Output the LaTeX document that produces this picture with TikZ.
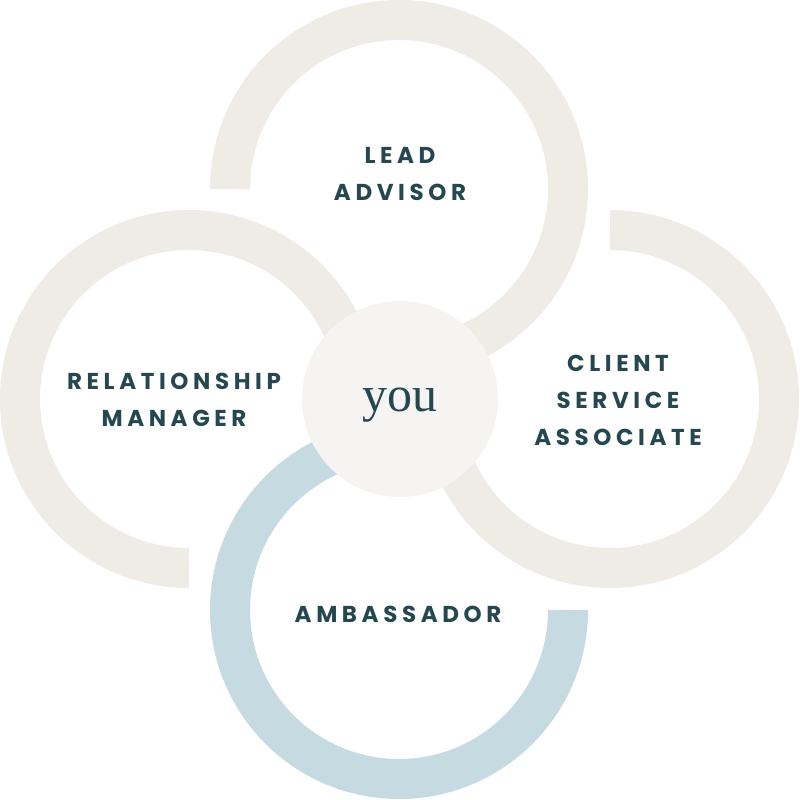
\documentclass[tikz,border=0pt]{standalone}
\usepackage{fontspec}
\newfontfamily\labfont[LetterSpace=20]{Poppins}
\newfontfamily\youfont{Liberation Serif}
\definecolor{beige}{HTML}{EFECE6}
\definecolor{paleblue}{HTML}{C5DAE1}
\definecolor{hub}{HTML}{F5F4F2}
\definecolor{ink}{HTML}{244750}
\tikzset{
  ring/.style={line width=40pt, draw=#1},
  lab/.style={text=ink, align=center, font=\labfont\bfseries\fontsize{23}{37}\selectfont, inner sep=0pt},
}
\begin{document}
\begin{tikzpicture}[x=1pt,y=1pt]
\useasboundingbox (0,0) rectangle (800,800);
\fill[white] (0,0) rectangle (800,800);
% rings
\draw[ring=beige] (399,611) ++(180:169) arc[start angle=180, end angle=-90, radius=169];
\draw[ring=beige] (610,401) ++(90:169) arc[start angle=90, end angle=-180, radius=169];
\draw[ring=beige] (189,401) ++(0:169) arc[start angle=0, end angle=270, radius=169];
\draw[ring=paleblue] (399,190) ++(90:169) arc[start angle=90, end angle=360, radius=169];
% hub
\node[circle, fill=hub, minimum size=196pt, inner sep=0pt] (you) at (400,401) {};
\node[text=ink, font=\youfont\fontsize{50}{50}\selectfont, anchor=base, inner sep=0pt] (youtxt) at (400,388) {you};
% labels
\node[lab] (lead) at (400,626) {LEAD\\ADVISOR};
\node[lab] (rel) at (174,400) {RELATIONSHIP\\MANAGER};
\node[lab] (csa) at (618,400) {CLIENT\\SERVICE\\ASSOCIATE};
\node[lab] (amb) at (398,186) {AMBASSADOR};
\end{tikzpicture}
\end{document}
